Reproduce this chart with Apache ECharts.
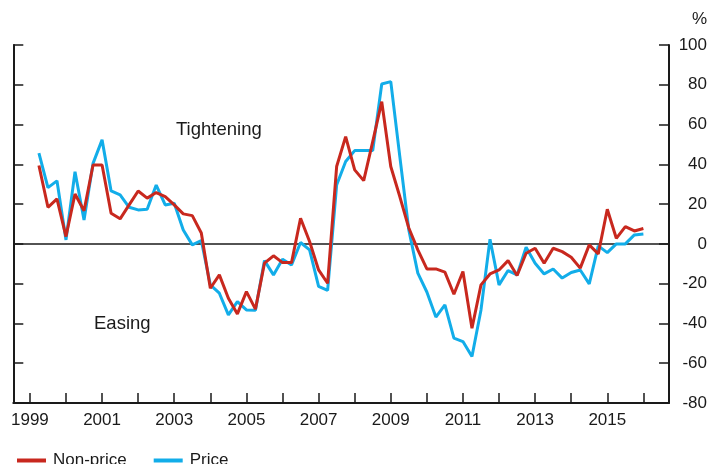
<!DOCTYPE html>
<html>
<head>
<meta charset="utf-8">
<script src="https://cdn.jsdelivr.net/npm/echarts@6/dist/echarts.min.js"></script>
<style>
html,body{margin:0;padding:0;background:#fff;}
#chart{width:725px;height:464px;}
</style>
</head>
<body>
<div id="chart"></div>
<script>
// Quarterly observations, 1999 Q2 to 2016 Q1
const startYear = 1999.25;
const quarterStep = 0.25;
const nonPrice = [39.4, 18.4, 22.6, 3.7, 25.1, 16.7, 39.7, 39.7, 15.4, 12.6,
  19.6, 26.6, 23, 25.8, 23.8, 19.6, 15.1, 14.2, 5.5, -22.3,
  -15.6, -27.3, -35.2, -24, -32.8, -9.7, -6, -9.4, -9.4, 12.9,
  1.2, -13.1, -19.8, 38.9, 53.9, 37.2, 31.8, 51.4, 71.5, 38.9,
  23.8, 8, -3, -12.6, -12.6, -14.2, -25.3, -13.9, -42.4, -20.6,
  -15.1, -13.1, -8.4, -15.9, -4.7, -2.2, -9.7, -2.2, -3.9, -6.7,
  -12.2, -0.5, -5, 17.4, 2.8, 8.7, 6.5, 7.7];
const price = [45.6, 28.3, 31.7, 2, 36.3, 12, 40.5, 52.3, 26.6, 24.6,
  18.4, 17.1, 17.4, 29.6, 19.6, 20.4, 7, -0.5, 1.7, -20.6,
  -24.8, -35.7, -29, -33.2, -33.4, -8.4, -15.6, -7.7, -10.6, 0.7,
  -3, -21.4, -23.4, 29.6, 41.4, 46.9, 46.9, 46.9, 80.4, 81.6,
  44, 7, -14.7, -24.2, -36.8, -30.7, -47.4, -49.1, -56.6, -33.2,
  2.3, -20.6, -13.4, -15.6, -1.7, -9.7, -15.1, -12.6, -17.2, -14.4,
  -13.1, -20.1, -1, -4.4, 0, 0, 4.5, 5];
const tickYears = [1999,2000,2001,2002,2003,2004,2005,2006,2007,2008,2009,2010,2011,2012,2013,2014,2015,2016];
const labelYears = [1999,2001,2003,2005,2007,2009,2011,2013,2015];

const xs = nonPrice.map((_, i) => startYear + i * quarterStep);
const toPairs = arr => arr.map((v, i) => [xs[i], v]);

const font = '"Liberation Sans", Arial, Helvetica, sans-serif';
const ink = '#1a1a1a';
const red = '#c8281e';
const blue = '#12ade9';

const chart = echarts.init(document.getElementById('chart'), null, {renderer: 'canvas'});
chart.setOption({
  animation: false,
  backgroundColor: '#ffffff',
  textStyle: {fontFamily: font, color: ink},
  grid: {left: 13.3, right: 56, top: 45, bottom: 61, containLabel: false},
  xAxis: {
    type: 'value',
    min: 1998.54,
    max: 2016.71,
    splitLine: {show: false},
    axisLine: {show: true, onZero: false, lineStyle: {color: ink, width: 2}},
    axisTick: {show: true, inside: true, length: 10, customValues: tickYears, lineStyle: {color: ink, width: 1.5}},
    axisLabel: {show: true, customValues: labelYears, margin: 9, fontSize: 17, color: ink, fontFamily: font,
      formatter: v => String(Math.round(v))}
  },
  yAxis: [{
    type: 'value',
    position: 'right',
    min: -80, max: 100, interval: 20,
    splitLine: {show: false},
    axisLine: {show: true, onZero: false, lineStyle: {color: ink, width: 2}},
    axisTick: {show: true, inside: true, length: 10, lineStyle: {color: ink, width: 1.5}},
    axisLabel: {show: true, align: 'right', margin: 38, fontSize: 17, color: ink, fontFamily: font}
  }, {
    type: 'value',
    position: 'left',
    min: -80, max: 100, interval: 20,
    splitLine: {show: false},
    axisLine: {show: true, onZero: false, lineStyle: {color: ink, width: 2}},
    axisTick: {show: true, inside: true, length: 10, lineStyle: {color: ink, width: 1.5}},
    axisLabel: {show: false}
  }],
  legend: {
    left: 12, top: 447,
    itemWidth: 29, itemHeight: 4, itemGap: 27,
    icon: 'rect',
    textStyle: {fontSize: 17, color: ink, fontFamily: font, padding: [0,0,0,2]},
    data: ['Non-price', 'Price']
  },
  graphic: [
    {type: 'text', left: 692, top: 11, style: {text: '%', font: '17px ' + font, fill: ink}},
    {type: 'text', left: 176, top: 120, style: {text: 'Tightening', font: '18.5px ' + font, fill: ink}},
    {type: 'text', left: 94, top: 314, style: {text: 'Easing', font: '18.5px ' + font, fill: ink}}
  ],
  series: [{
    name: 'Price',
    type: 'line',
    yAxisIndex: 0,
    data: toPairs(price),
    showSymbol: false,
    symbol: 'none',
    lineStyle: {color: blue, width: 3},
    itemStyle: {color: blue},
    z: 2,
    markLine: {
      silent: true, symbol: 'none', label: {show: false},
      lineStyle: {color: ink, width: 1.5, type: 'solid'},
      data: [{yAxis: 0}],
      z: 1
    }
  }, {
    name: 'Non-price',
    type: 'line',
    yAxisIndex: 0,
    data: toPairs(nonPrice),
    showSymbol: false,
    symbol: 'none',
    lineStyle: {color: red, width: 3},
    itemStyle: {color: red},
    z: 3
  }]
});
</script>
</body>
</html>
